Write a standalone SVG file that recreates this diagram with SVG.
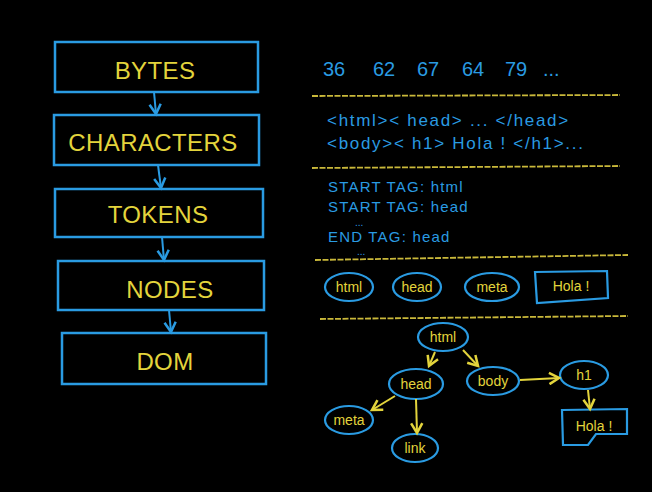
<svg xmlns="http://www.w3.org/2000/svg" width="652" height="492" viewBox="0 0 652 492">
<defs>
<marker id="ab" viewBox="0 0 10 10" refX="8" refY="5" markerWidth="7" markerHeight="7" orient="auto"><path d="M1,1 L8,5 L1,9" fill="none" stroke="#2a9be2" stroke-width="1.8"/></marker>
<marker id="ay" viewBox="0 0 10 10" refX="8" refY="5" markerWidth="7" markerHeight="7" orient="auto"><path d="M1,1 L8,5 L1,9" fill="none" stroke="#e3d43c" stroke-width="1.8"/></marker>
</defs>
<style>
.box{fill:none;stroke:#2a9be2;stroke-width:2.5}
.el{fill:none;stroke:#2a9be2;stroke-width:2.2}
.lb{font-family:"Liberation Sans",Arial,sans-serif;fill:#e3d43c;text-anchor:middle;dominant-baseline:central}
.big{font-size:24px;letter-spacing:0.4px}
.sm{font-size:14px}
.bt{font-family:"Liberation Sans",Arial,sans-serif;fill:#2a9be2}
.n{font-size:20px}
.c{font-size:17px;letter-spacing:1.7px}
.t{font-size:15px;letter-spacing:1.2px}
.d{font-size:10px}
.sep{stroke:#c9b83a;stroke-width:1.8;stroke-dasharray:6 1.5}
.cb{stroke:#2a9be2;stroke-width:2;fill:none}
.cy{stroke:#e3d43c;stroke-width:2;fill:none}
</style>
<rect width="652" height="492" fill="#000"/>
<g id="bytes"><rect class="box" x="55" y="42" width="203" height="50"/><text class="lb big" x="155" y="70">BYTES</text></g>
<g id="characters"><rect class="box" x="54" y="115" width="205" height="50"/><text class="lb big" x="153" y="142">CHARACTERS</text></g>
<g id="tokens"><rect class="box" x="55" y="189" width="208" height="48"/><text class="lb big" x="158" y="214">TOKENS</text></g>
<g id="nodes"><rect class="box" x="58" y="261" width="206" height="49"/><text class="lb big" x="170" y="289">NODES</text></g>
<g id="dom"><rect class="box" x="62" y="333" width="204" height="51"/><text class="lb big" x="165" y="361">DOM</text></g>
<g id="text-bytes"><text class="bt n" x="323" y="76">36</text><text class="bt n" x="373" y="76">62</text><text class="bt n" x="417" y="76">67</text><text class="bt n" x="462" y="76">64</text><text class="bt n" x="505" y="76">79</text><text class="bt n" x="543" y="76">...</text></g>
<g id="text-chars"><text class="bt c" x="327" y="126">&lt;html&gt;&lt; head&gt; ...  &lt;/head&gt;</text><text class="bt c" x="327" y="149">&lt;body&gt;&lt; h1&gt; Hola ! &lt;/h1&gt;...</text></g>
<g id="text-tokens"><text class="bt t" x="328" y="192">START TAG: html</text><text class="bt t" x="328" y="212">START TAG: head</text><text class="bt d" x="355" y="226">...</text><text class="bt t" x="328" y="242">END TAG: head</text><text class="bt d" x="357" y="255">...</text></g>
<g id="separators"><line class="sep" x1="312" y1="96" x2="620" y2="95"/><line class="sep" x1="312" y1="168" x2="620" y2="166"/><line class="sep" x1="315" y1="260" x2="628" y2="255"/><line class="sep" x1="320" y1="319" x2="628" y2="316"/></g>
<g id="n-html1"><ellipse class="el" cx="349" cy="287" rx="24" ry="14"/><text class="lb sm" x="349" y="287">html</text></g>
<g id="n-head1"><ellipse class="el" cx="417" cy="287" rx="24" ry="14"/><text class="lb sm" x="417" y="287">head</text></g>
<g id="n-meta1"><ellipse class="el" cx="492" cy="287" rx="27" ry="14"/><text class="lb sm" x="492" y="287">meta</text></g>
<g id="n-hola1"><path class="el" d="M535,272 L607,271 L608,298 L537,303 Z"/><text class="lb sm" x="571" y="286">Hola !</text></g>
<g id="t-html"><ellipse class="el" cx="443" cy="337" rx="25" ry="14"/><text class="lb sm" x="443" y="337">html</text></g>
<g id="t-head"><ellipse class="el" cx="416" cy="384" rx="27" ry="15"/><text class="lb sm" x="416" y="384">head</text></g>
<g id="t-body"><ellipse class="el" cx="493" cy="381" rx="26" ry="14"/><text class="lb sm" x="493" y="381">body</text></g>
<g id="t-h1"><ellipse class="el" cx="584" cy="375" rx="24" ry="14"/><text class="lb sm" x="584" y="375">h1</text></g>
<g id="t-meta"><ellipse class="el" cx="349" cy="420" rx="24" ry="14"/><text class="lb sm" x="349" y="420">meta</text></g>
<g id="t-link"><ellipse class="el" cx="415" cy="448" rx="23" ry="14"/><text class="lb sm" x="415" y="448">link</text></g>
<g id="t-hola"><path class="el" d="M562,410 L627,409 L627,434 L596,434 L588,445 L563,445 Z"/><text class="lb sm" x="594" y="426">Hola !</text></g>
<g id="connectors">
<line class="cb" x1="154" y1="92" x2="156" y2="114" marker-end="url(#ab)"/>
<line class="cb" x1="158" y1="165" x2="161" y2="188" marker-end="url(#ab)"/>
<line class="cb" x1="162" y1="237" x2="164" y2="260" marker-end="url(#ab)"/>
<line class="cb" x1="169" y1="310" x2="171" y2="332" marker-end="url(#ab)"/>
<line class="cy" x1="435" y1="352" x2="429" y2="366" marker-end="url(#ay)"/>
<line class="cy" x1="463" y1="350" x2="478" y2="366" marker-end="url(#ay)"/>
<line class="cy" x1="395" y1="396" x2="372" y2="410" marker-end="url(#ay)"/>
<line class="cy" x1="416" y1="399" x2="417" y2="433" marker-end="url(#ay)"/>
<line class="cy" x1="520" y1="380" x2="559" y2="378" marker-end="url(#ay)"/>
<line class="cy" x1="588" y1="390" x2="590" y2="409" marker-end="url(#ay)"/>
</g>
</svg>
